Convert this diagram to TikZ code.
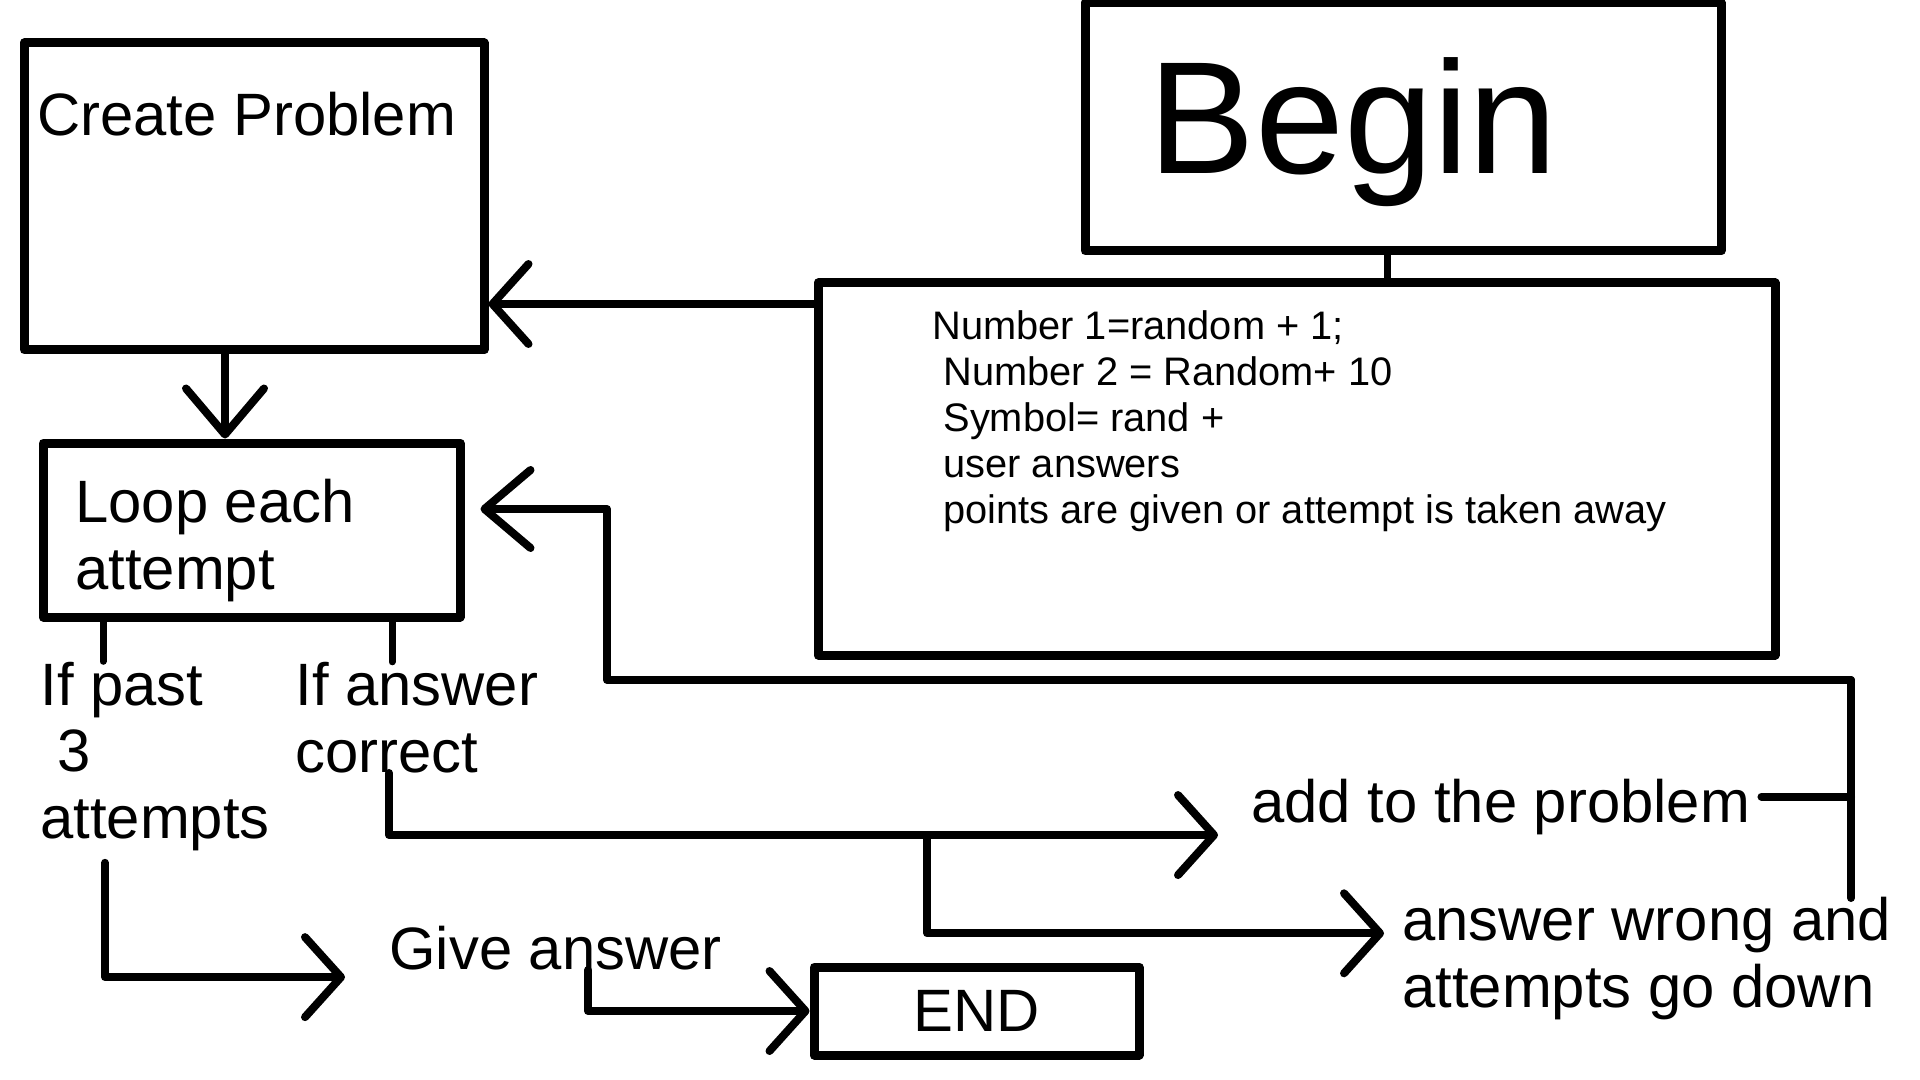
\documentclass[tikz,border=0pt]{standalone}
\usepackage{fontspec}
\setmainfont{Liberation Sans}
\usetikzlibrary{arrows.meta,calc}
\begin{document}
\begin{tikzpicture}[x=0.5pt,y=-0.5pt,
  box/.style={draw,line width=4.5pt,inner sep=0pt,line join=round},
  lbl/.style={inner sep=0pt,align=left,font=\fontsize{29.9pt}{33.25pt}\selectfont},
  conn/.style={line width=4pt,line cap=round,line join=round},
  thin/.style={line width=3.5pt,line cap=round},
  vhead/.style={-{Straight Barb[length=18pt,width=40pt,round]}},
  bighead/.style={-{Straight Barb[length=23pt,width=39pt,round]}},
]
\useasboundingbox (0,0) rectangle (1920,1080);

% boxes (base anchor of a multi-line text = baseline of its last line)
\node[box,minimum width=230pt,minimum height=153.5pt] (create) at (254,196.5) {};
\node[lbl,anchor=base west] (createt) at (37,136) {Create Problem};
\node[box,minimum width=208.5pt,minimum height=87pt] (loop) at (251.5,530) {};
\node[lbl,anchor=base west] (loopt) at (75,589) {Loop each\\attempt};
\node[box,minimum width=318pt,minimum height=124pt] (begin) at (1403,127) {};
\node[inner sep=0pt,anchor=base,font=\fontsize{80pt}{90pt}\selectfont] (begint) at (1353,174) {Begin};
\node[box,minimum width=478.5pt,minimum height=186pt] (code) at (1296.5,469) {};
\node[inner sep=0pt,anchor=base west,align=left,font=\fontsize{19.9pt}{23pt}\selectfont] (codet) at (932,523)
  {Number 1=random + 1;\\~Number 2 = Random+ 10\\~Symbol= rand +\\~user answers\\~points are given or attempt is taken away};
\node[box,minimum width=162.5pt,minimum height=44pt,font=\fontsize{29.9pt}{33.25pt}\selectfont] (endb) at (976.5,1011) {END};

% labels
\node[lbl,anchor=base west] (ifpast) at (40,838) {If past\\~3\\attempts};
\node[lbl,anchor=base west] (ifans) at (295,772) {If answer\\correct};
\node[lbl,anchor=base west] (addp) at (1251,822) {add to the problem};
\node[lbl,anchor=base west] (givea) at (389,969) {Give answer};
\node[lbl,anchor=base west] (answ) at (1402,1007) {answer wrong and\\attempts go down};

% helper coordinates
\coordinate (bx) at (1387,0);
\coordinate (ay) at (0,304);
\coordinate (cx) at (225,0);
\coordinate (s1) at (103,0);
\coordinate (s2) at (392,0);
\coordinate (c1) at (389,0);
\coordinate (br) at (927,835);
\coordinate (p1) at (105,0);
\coordinate (g1) at (588,0);
\coordinate (rtop) at (1851,680);
\coordinate (rbot) at (1851,898);
\coordinate (lb) at (607,509);

% connectors
\draw[thin] (begin.south -| bx) -- (code.north -| bx);
\draw[conn,vhead] (code.west |- ay) -- (create.east |- ay);
\draw[conn,bighead] (create.south -| cx) -- (loop.north -| cx);
\draw[thin] (loop.south -| s1) -- (ifpast.north -| s1);
\draw[thin] (loop.south -| s2) -- (ifans.north -| s2);
\draw[conn,vhead] (ifans.south -| c1) |- ([xshift=-16.5pt,yshift=-14.25pt]addp.west);
\draw[conn,vhead] (br) |- ([xshift=-9pt,yshift=12.5pt]answ.west);
\draw[conn,vhead] ($(ifpast.south -| p1)+(0,12)$) |- ([xshift=-22pt,yshift=-14.75pt]givea.west);
\draw[conn,vhead] (givea.south -| g1) |- (endb.west);
\coordinate (st) at ([xshift=5.5pt,yshift=5pt]addp.east);
\draw[conn] (st) -- (st -| rtop);
\draw[conn] (rbot) -- (rtop);
\draw[conn,bighead] (rtop) -| (lb) -- ([xshift=8pt,yshift=10.5pt]loop.east);
\end{tikzpicture}
\end{document}
